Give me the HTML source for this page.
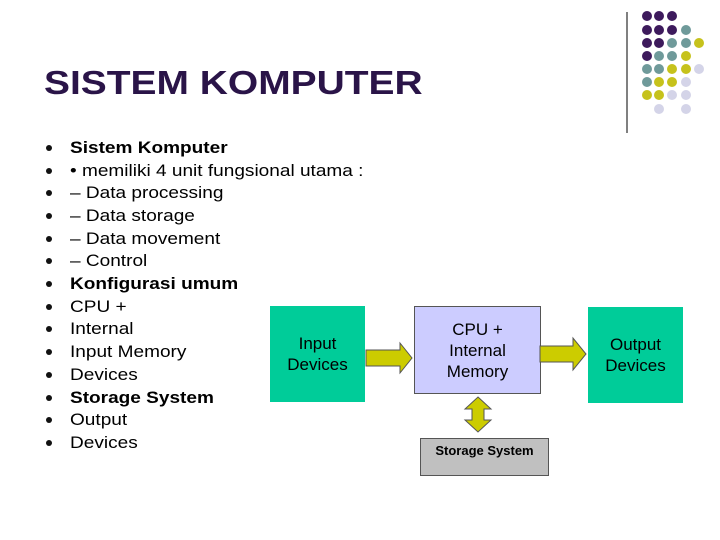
<!DOCTYPE html>
<html><head><style>
body{margin:0;width:720px;height:540px;background:#fff;position:relative;font-family:"Liberation Sans",sans-serif;overflow:hidden}
.a{position:absolute}
.t{left:44px;top:64px;font-size:33px;font-weight:bold;color:#2a1448;transform:scaleX(1.18);transform-origin:left top}
.li{position:absolute;left:70px;font-size:17px;color:#000;line-height:20px;transform:scaleX(1.12);transform-origin:left top;white-space:nowrap}
.bu{position:absolute;left:46px;width:6px;height:6px;border-radius:50%;background:#111}
.b{position:absolute;display:flex;align-items:center;justify-content:center;text-align:center;font-size:17px;line-height:21px}
</style></head><body>
<div class="a t">SISTEM KOMPUTER</div>
<div class="li" style="top:138px;font-weight:bold">Sistem Komputer</div>
<div class="li" style="top:161px">• memiliki 4 unit fungsional utama :</div>
<div class="li" style="top:183px">– Data processing</div>
<div class="li" style="top:206px">– Data storage</div>
<div class="li" style="top:229px">– Data movement</div>
<div class="li" style="top:251px">– Control</div>
<div class="li" style="top:274px;font-weight:bold">Konfigurasi umum</div>
<div class="li" style="top:297px">CPU +</div>
<div class="li" style="top:319px">Internal</div>
<div class="li" style="top:342px">Input Memory</div>
<div class="li" style="top:365px">Devices</div>
<div class="li" style="top:388px;font-weight:bold">Storage System</div>
<div class="li" style="top:410px">Output</div>
<div class="li" style="top:433px">Devices</div>
<div class="bu" style="top:145px"></div><div class="bu" style="top:168px"></div><div class="bu" style="top:190px"></div><div class="bu" style="top:213px"></div><div class="bu" style="top:236px"></div><div class="bu" style="top:258px"></div><div class="bu" style="top:281px"></div><div class="bu" style="top:304px"></div><div class="bu" style="top:326px"></div><div class="bu" style="top:349px"></div><div class="bu" style="top:372px"></div><div class="bu" style="top:395px"></div><div class="bu" style="top:417px"></div><div class="bu" style="top:440px"></div>

<div class="b" style="left:270px;top:306px;width:95px;height:96px;background:#00cc99">Input<br>Devices</div>
<div class="b" style="left:414px;top:306px;width:125px;height:86px;background:#ccccff;border:1px solid #555">CPU +<br>Internal<br>Memory</div>
<div class="b" style="left:588px;top:307px;width:95px;height:96px;background:#00cc99">Output<br>Devices</div>
<div class="b" style="left:420px;top:438px;width:127px;height:36px;background:#c0c0c0;border:1px solid #555;font-size:13px;font-weight:bold;align-items:flex-start;line-height:24px">Storage System</div>
<svg class="a" style="left:0;top:0" width="720" height="540">
<g fill="#cccc00" stroke="#555" stroke-width="1">
<polygon points="366,350 400,350 400,343 412,358 400,373 400,366 366,366"/>
<polygon points="540,346 573,346 573,338 586,354 573,370 573,362 540,362"/>
<polygon points="478,397 491,409 484,409 484,420 491,420 478,432 465,420 472,420 472,409 465,409"/>
</g>
<line x1="627" y1="12" x2="627" y2="133" stroke="#000" stroke-width="1"/>
<g>
<circle cx="647" cy="16" r="5" fill="#3d1a5c"/><circle cx="659" cy="16" r="5" fill="#3d1a5c"/><circle cx="672" cy="16" r="5" fill="#3d1a5c"/>
<circle cx="647" cy="30" r="5" fill="#3d1a5c"/><circle cx="659" cy="30" r="5" fill="#3d1a5c"/><circle cx="672" cy="30" r="5" fill="#3d1a5c"/><circle cx="686" cy="30" r="5" fill="#6f9a9a"/>
<circle cx="647" cy="43" r="5" fill="#3d1a5c"/><circle cx="659" cy="43" r="5" fill="#3d1a5c"/><circle cx="672" cy="43" r="5" fill="#6f9a9a"/><circle cx="686" cy="43" r="5" fill="#6f9a9a"/><circle cx="699" cy="43" r="5" fill="#c6c21c"/>
<circle cx="647" cy="56" r="5" fill="#3d1a5c"/><circle cx="659" cy="56" r="5" fill="#6f9a9a"/><circle cx="672" cy="56" r="5" fill="#6f9a9a"/><circle cx="686" cy="56" r="5" fill="#c6c21c"/>
<circle cx="647" cy="69" r="5" fill="#6f9a9a"/><circle cx="659" cy="69" r="5" fill="#6f9a9a"/><circle cx="672" cy="69" r="5" fill="#c6c21c"/><circle cx="686" cy="69" r="5" fill="#c6c21c"/><circle cx="699" cy="69" r="5" fill="#d4d4e8"/>
<circle cx="647" cy="82" r="5" fill="#6f9a9a"/><circle cx="659" cy="82" r="5" fill="#c6c21c"/><circle cx="672" cy="82" r="5" fill="#c6c21c"/><circle cx="686" cy="82" r="5" fill="#d4d4e8"/>
<circle cx="647" cy="95" r="5" fill="#c6c21c"/><circle cx="659" cy="95" r="5" fill="#c6c21c"/><circle cx="672" cy="95" r="5" fill="#d4d4e8"/><circle cx="686" cy="95" r="5" fill="#d4d4e8"/>
<circle cx="659" cy="109" r="5" fill="#d4d4e8"/><circle cx="686" cy="109" r="5" fill="#d4d4e8"/>
</g>
</svg>
</body></html>
